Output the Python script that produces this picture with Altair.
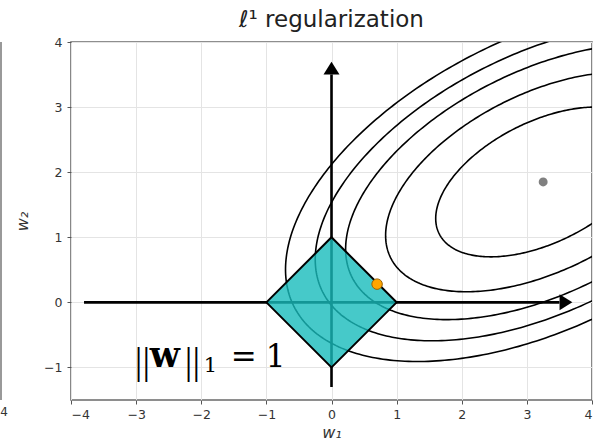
import numpy as np
import pandas as pd
import altair as alt

# Quadratic loss (w - c)^T A (w - c): centre and coefficients a, b, d of A = [[a, b], [b, d]]
loss_center = [3.25, 1.85]
loss_coef = [0.482, -0.337, 0.991]
contour_levels = [1.0, 2.15, 3.38, 4.5, 5.75]

# l1 ball ||w||_1 <= 1 as an area between an upper and a lower edge
ball_w1 = [-1.0, 0.0, 1.0]
ball_upper = [0.0, 1.0, 0.0]
ball_lower = [0.0, -1.0, 0.0]

# optimum of the loss, and the regularized solution on the ball's edge
optimum = [3.25, 1.85]
solution = [0.70, 0.28]

# coordinate axes drawn as arrows: start, tip
arrow_x0 = [-3.8, 0.0]
arrow_y0 = [0.0, -1.3]
arrow_x1 = [3.7, 0.0]
arrow_y1 = [0.0, 3.7]
arrow_angle = [0, 270]
HEAD = 0.2

x_ticks = [-4, -3, -2, -1, 0, 1, 2, 3, 4]
y_ticks = [-1, 0, 1, 2, 3, 4]

# ---- level sets of the loss (ellipses) ----
a, b, d = loss_coef
A = np.array([[a, b], [b, d]])
lam, vec = np.linalg.eigh(A)
t = np.linspace(0, 2 * np.pi, 361)
unit = np.vstack([np.cos(t), np.sin(t)])
rows = []
for lev in contour_levels:
    pts = vec @ (np.sqrt(lev / lam)[:, None] * unit)
    for i in range(pts.shape[1]):
        rows.append({"w1": loss_center[0] + pts[0, i],
                     "w2": loss_center[1] + pts[1, i],
                     "level": lev, "i": i})
contours = pd.DataFrame(rows)

ball = pd.DataFrame({"w1": ball_w1, "up": ball_upper, "lo": ball_lower})

arrows = pd.DataFrame({
    "x0": arrow_x0, "y0": arrow_y0,
    "x1": [x - HEAD * np.sign(x) for x in arrow_x1],
    "y1": [y - HEAD * np.sign(y) for y in arrow_y1],
    "hx": [x - HEAD / 2 * np.sign(x) for x in arrow_x1],
    "hy": [y - HEAD / 2 * np.sign(y) for y in arrow_y1],
    "angle": arrow_angle,
})

xs = alt.Scale(domain=[-4, 4], nice=False, zero=False)
ys = alt.Scale(domain=[-1.5, 4], nice=False, zero=False)
X = lambda f: alt.X(f, type="quantitative", scale=xs,
                    axis=alt.Axis(values=x_ticks, title="w₁", format="d"))
Y = lambda f: alt.Y(f, type="quantitative", scale=ys,
                    axis=alt.Axis(values=y_ticks, title="w₂", format="d"))

contour_layer = alt.Chart(contours).mark_line(
    color="black", strokeWidth=1.6, clip=True
).encode(x=X("w1"), y=Y("w2"), detail="level:N", order="i:Q")

shaft_layer = alt.Chart(arrows).mark_rule(color="black", strokeWidth=2.6).encode(
    x=X("x0"), y=Y("y0"), x2="x1", y2="y1")

head_layer = alt.Chart(arrows).mark_point(
    shape="M -0.8 -1 L 0.8 0 L -0.8 1 Z", filled=True, color="black",
    opacity=1, size=256
).encode(x=X("hx"), y=Y("hy"), angle=alt.Angle("angle:Q", scale=None))

ball_layer = alt.Chart(ball).mark_area(
    color="#18bcbc", fillOpacity=0.8, stroke="black", strokeWidth=2,
    strokeOpacity=1, interpolate="linear"
).encode(x=X("w1"), y=Y("up"), y2="lo")

opt_layer = alt.Chart(pd.DataFrame({"w1": [optimum[0]], "w2": [optimum[1]]})).mark_point(
    filled=True, color="#808080", size=80, opacity=1
).encode(x=X("w1"), y=Y("w2"))

sol_layer = alt.Chart(pd.DataFrame({"w1": [solution[0]], "w2": [solution[1]]})).mark_point(
    filled=True, fill="#ffa500", stroke="#9a6200", strokeWidth=1, size=110, opacity=1
).encode(x=X("w1"), y=Y("w2"))

# label ||w||_1 = 1 assembled from pieces
lab = pd.DataFrame({"w1": [-2.99], "w2": [-1.0]})
def piece(txt, dx, size, font="DejaVu Serif", weight="normal", dy=0):
    return alt.Chart(lab).mark_text(
        text=txt, align="left", baseline="alphabetic", dx=dx, dy=dy,
        fontSize=size, font=font, fontWeight=weight, color="black"
    ).encode(x=X("w1"), y=Y("w2"))

label_layers = [
    piece("||", -2, 38, font="Liberation Serif", dy=7),
    piece("w", 13, 35, weight="bold"),
    piece("||", 48, 38, font="Liberation Serif", dy=7),
    piece("1", 67, 21, dy=5),
    piece("=", 94, 31),
    piece("1", 129, 31),
]

# right spine and last tick label of the neighbouring panel
edge = pd.DataFrame({"v": [0]})
edge_rule = alt.Chart(edge).mark_rule(color="#777777", strokeWidth=1.5).encode(
    x=alt.value(-70), y=alt.value(0), y2=alt.value(358))
edge_text = alt.Chart(edge).mark_text(
    text="4", fontSize=12, font="DejaVu Sans", color="#333333", baseline="middle"
).encode(x=alt.value(-67), y=alt.value(370))

chart = alt.layer(
    contour_layer, shaft_layer, ball_layer, head_layer, opt_layer, sol_layer,
    *label_layers, edge_rule, edge_text
).properties(
    width=521, height=358,
    title=alt.Title("ℓ¹ regularization", fontSize=23, font="DejaVu Sans",
                    fontWeight="normal", color="#222222", offset=4),
    autosize=alt.AutoSizeParams(type="none"),
    padding={"left": 71, "top": 42, "right": 2, "bottom": 43},
).configure_view(
    stroke="#6a6a6a", strokeWidth=1.6
).configure_axis(
    labelFont="DejaVu Sans", labelFontSize=12.5, labelColor="#333333",
    tickColor="#555555", tickSize=4, tickWidth=1, domain=False,
    grid=True, gridColor="#e4e4e4", gridWidth=1,
    titleFont="DejaVu Sans", titleFontSize=16, titleFontWeight="normal",
    titleColor="#333333", titleFontStyle="italic",
).configure_axisX(labelPadding=4, titlePadding=4).configure_axisY(
    labelPadding=5, titlePadding=13)

chart.save("out.html", embed_options={"renderer": "svg", "actions": False})
